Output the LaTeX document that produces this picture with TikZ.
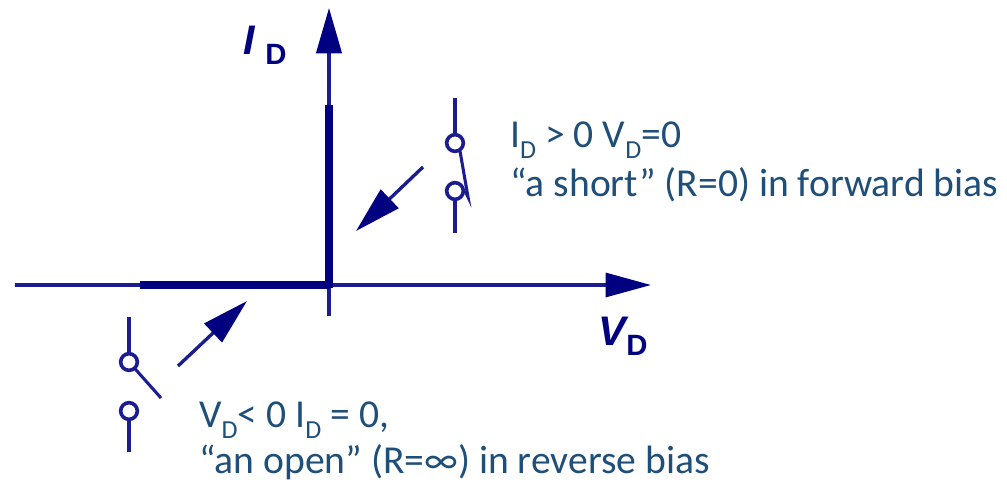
\documentclass[tikz,border=0pt]{standalone}
\usepackage{fontspec}
\setmainfont{Carlito}
\newfontfamily\axisfont{Liberation Sans}
\usetikzlibrary{arrows.meta}
\definecolor{axisblue}{RGB}{28,28,145}
\definecolor{headblue}{RGB}{0,0,128}
\definecolor{textblue}{RGB}{31,78,121}
\newcommand{\lowered}[1]{\raisebox{-0.28em}{\fontsize{19.5}{22}\selectfont #1}}
\tikzset{
  axisline/.style={draw=axisblue,line width=2.3pt},
  thickline/.style={draw=headblue,line width=6pt},
  bigarrow/.style={draw=axisblue,line width=2.5pt,-{Triangle[length=35pt,width=19pt,color=headblue]}},
  switchline/.style={draw=axisblue,line width=2.3pt},
  contact/.style={circle,draw=axisblue,line width=2.7pt,fill=white,minimum size=12.5pt,inner sep=0pt},
  note/.style={anchor=base west,text=textblue,font=\fontsize{29.7}{34}\selectfont,inner sep=0pt},
  axislabel/.style={anchor=base west,text=headblue,inner sep=0pt},
}
\begin{document}
\begin{tikzpicture}[x=0.75pt,y=-0.75pt]
\useasboundingbox (0,0) rectangle (1007,482);
% axes
\coordinate (hl) at (15,285);
\coordinate (hr) at (651,285);
\coordinate (vb) at (329,316);
\coordinate (vt) at (329,8);
\coordinate (origin) at (329,285);
\coordinate (thickl) at (140,285);
\coordinate (thickt) at (329,105);
\draw[axisline,-{Triangle[length=34pt,width=18pt,color=headblue]}] (hl) -- (hr);
\draw[axisline,-{Triangle[length=34pt,width=19pt,color=headblue]}] (vb) -- (vt);
\draw[thickline] (thickl) -- (origin);
\draw[thickline] (origin) ++(0,3) -- (thickt);
% closed switch
\coordinate (ct) at (455,98);
\coordinate (cb) at (455,233);
\coordinate (cbend) at (468,197);
\coordinate (cbstart) at (460,151);
\node[contact] (c1) at (455,143) {};
\node[contact] (c2) at (455,191) {};
\draw[switchline] (ct) -- (c1);
\draw[switchline] (c2) -- (cb);
\draw[switchline,line join=miter] (cbstart) -- (cbend) -- (c2.east);
% open switch
\coordinate (ot) at (129,317);
\coordinate (ob) at (129,452);
\coordinate (oblade) at (161,398);
\node[contact] (o2) at (129,411) {};
\draw[switchline] (ot) -- (129,362) coordinate (o1c);
\draw[switchline] (o2) -- (ob);
\draw[switchline] (o1c) -- (oblade);
\node[contact] (o1) at (o1c) {};
% arrows to the thick segments
\coordinate (a1s) at (423,167);
\coordinate (a1e) at (356,231);
\coordinate (a2s) at (178,366);
\coordinate (a2e) at (247,301);
\draw[bigarrow] (a1s) -- (a1e);
\draw[bigarrow] (a2s) -- (a2e);
% axis labels
\node[axislabel,font={\axisfont\bfseries\itshape\fontsize{31}{34}\selectfont}] (idi) at (243,54) {I};
\node[axislabel,font={\axisfont\bfseries\fontsize{22}{26}\selectfont}] (idd) at (265,64) {D};
\node[axislabel,font={\axisfont\bfseries\itshape\fontsize{31}{34}\selectfont}] (vdv) at (598,345) {V};
\node[axislabel,font={\axisfont\bfseries\fontsize{22}{26}\selectfont}] (vdd) at (626,355) {D};
% notes
\node[note] (n1) at (510,147) {I\lowered{D} > 0 V\lowered{D}=0};
\node[note] (n2) at (510,196) {“a short” (R=0) in forward bias};
\node[note] (n3) at (199,427) {V\lowered{D}< 0 I\lowered{D} = 0,};
\node[note] (n4) at (199,473) {“an open” (R=∞) in reverse bias};
\end{tikzpicture}
\end{document}
